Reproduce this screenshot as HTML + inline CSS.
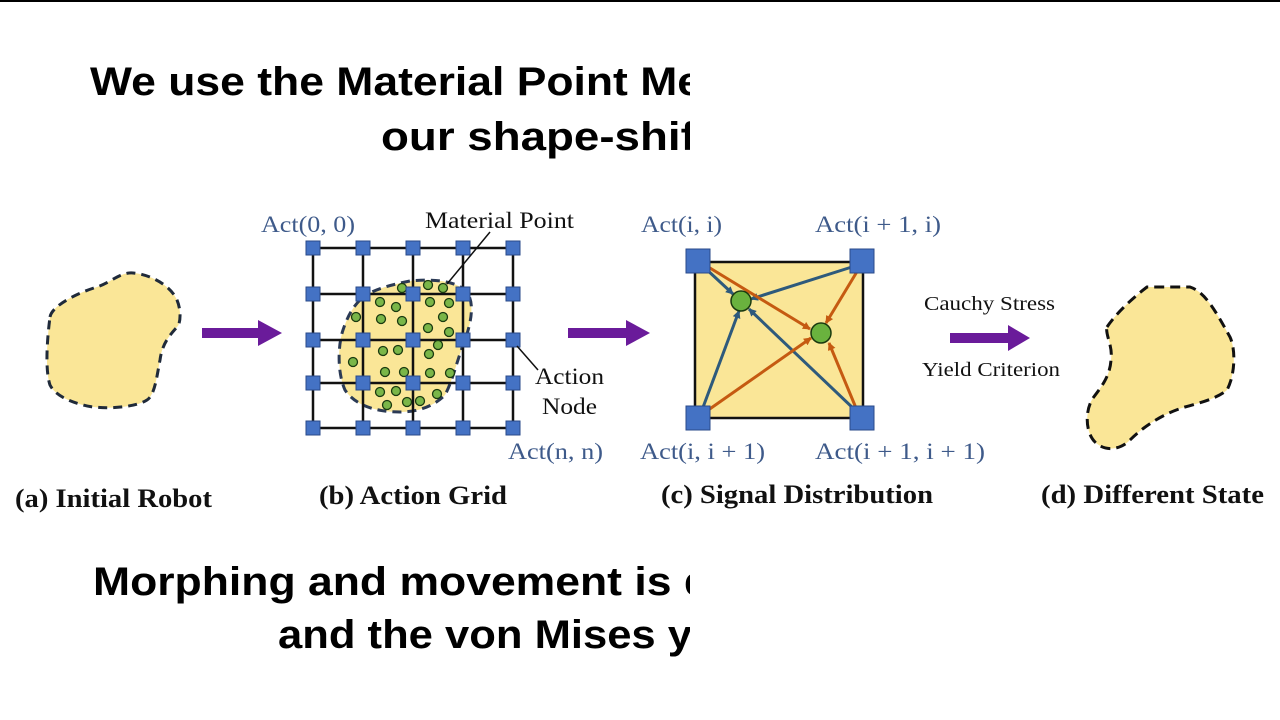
<!DOCTYPE html>
<html><head><meta charset="utf-8"><style>
html,body{margin:0;padding:0;background:#fff;width:1280px;height:720px;overflow:hidden}
</style></head><body>
<svg width="1280" height="720" viewBox="0 0 1280 720" xmlns="http://www.w3.org/2000/svg">
<defs>
<clipPath id="cl"><rect x="0" y="0" width="690" height="720"/></clipPath>
<marker id="mb" markerWidth="8" markerHeight="8" refX="7" refY="4" orient="auto" markerUnits="userSpaceOnUse"><path d="M0,0 L8,4 L0,8 z" fill="#2e5a7c"/></marker>
<marker id="mo" markerWidth="8" markerHeight="8" refX="7" refY="4" orient="auto" markerUnits="userSpaceOnUse"><path d="M0,0 L8,4 L0,8 z" fill="#c55a11"/></marker>
</defs>
<rect x="0" y="0" width="1280" height="2" fill="#000"/>
<g clip-path="url(#cl)" font-family="Liberation Sans, sans-serif" font-weight="bold" font-size="40" fill="#000">
<text x="90" y="95" textLength="612" lengthAdjust="spacingAndGlyphs">We use the Material Point Me</text>
<text x="381" y="150" textLength="330" lengthAdjust="spacingAndGlyphs">our shape-shift</text>
<text x="93" y="595" textLength="618" lengthAdjust="spacingAndGlyphs">Morphing and movement is d</text>
<text x="278" y="648" textLength="414" lengthAdjust="spacingAndGlyphs">and the von Mises y</text>
</g>

<path d="M50,317 C52,305 80,292 97,287 C112,282 120,272 133,273 C148,274 170,284 177,300 C182,312 180,325 177,327 C168,337 162,345 160,360 C157,375 155,395 147,400 C135,408 100,410 83,405 C68,401 55,395 50,385 C45,370 47,340 50,317 Z" fill="#fae697" stroke="#1f2a3a" stroke-width="3" stroke-dasharray="9,6"/>
<path d="M202,328 H258 V320 L282,333 L258,346 V338 H202 Z" fill="#6a1b9a"/>

<path d="M360,300 C370,290 390,285 410,281 C430,279 453,280 465,290 C475,300 472,320 465,340 C457,360 453,380 445,395 C435,405 420,412 400,412 C375,412 355,405 345,390 C337,372 338,345 343,330 C347,318 352,308 360,300 Z" fill="#fae697" stroke="#2b3a55" stroke-width="3" stroke-dasharray="9,6"/>
<g stroke="#111" stroke-width="2.5" fill="none">
<path d="M313,248V428M363,248V428M413,248V428M463,248V428M513,248V428M313,248H513M313,294H513M313,340H513M313,383H513M313,428H513"/>
</g>
<g fill="#7ab648" stroke="#1a3a10" stroke-width="1.3">
<circle cx="402" cy="288" r="4.5"/><circle cx="428" cy="285" r="4.5"/><circle cx="443" cy="288" r="4.5"/><circle cx="380" cy="302" r="4.5"/><circle cx="396" cy="307" r="4.5"/><circle cx="430" cy="302" r="4.5"/><circle cx="449" cy="303" r="4.5"/><circle cx="356" cy="317" r="4.5"/><circle cx="381" cy="319" r="4.5"/><circle cx="402" cy="321" r="4.5"/><circle cx="443" cy="317" r="4.5"/><circle cx="428" cy="328" r="4.5"/><circle cx="449" cy="332" r="4.5"/><circle cx="438" cy="345" r="4.5"/><circle cx="383" cy="351" r="4.5"/><circle cx="398" cy="350" r="4.5"/><circle cx="429" cy="354" r="4.5"/><circle cx="353" cy="362" r="4.5"/><circle cx="385" cy="372" r="4.5"/><circle cx="404" cy="372" r="4.5"/><circle cx="430" cy="373" r="4.5"/><circle cx="450" cy="373" r="4.5"/><circle cx="380" cy="392" r="4.5"/><circle cx="396" cy="391" r="4.5"/><circle cx="407" cy="402" r="4.5"/><circle cx="420" cy="401" r="4.5"/><circle cx="437" cy="394" r="4.5"/><circle cx="387" cy="405" r="4.5"/>
</g>
<g fill="#4472c4" stroke="#2a4a8a" stroke-width="1">
<rect x="306" y="241" width="14" height="14"/><rect x="356" y="241" width="14" height="14"/><rect x="406" y="241" width="14" height="14"/><rect x="456" y="241" width="14" height="14"/><rect x="506" y="241" width="14" height="14"/>
<rect x="306" y="287" width="14" height="14"/><rect x="356" y="287" width="14" height="14"/><rect x="406" y="287" width="14" height="14"/><rect x="456" y="287" width="14" height="14"/><rect x="506" y="287" width="14" height="14"/>
<rect x="306" y="333" width="14" height="14"/><rect x="356" y="333" width="14" height="14"/><rect x="406" y="333" width="14" height="14"/><rect x="456" y="333" width="14" height="14"/><rect x="506" y="333" width="14" height="14"/>
<rect x="306" y="376" width="14" height="14"/><rect x="356" y="376" width="14" height="14"/><rect x="406" y="376" width="14" height="14"/><rect x="456" y="376" width="14" height="14"/><rect x="506" y="376" width="14" height="14"/>
<rect x="306" y="421" width="14" height="14"/><rect x="356" y="421" width="14" height="14"/><rect x="406" y="421" width="14" height="14"/><rect x="456" y="421" width="14" height="14"/><rect x="506" y="421" width="14" height="14"/>
</g>
<path d="M490,232 L447,284 M517,346 L538,370" stroke="#111" stroke-width="1.5"/>
<g font-family="Liberation Serif, serif" font-size="23" lengthAdjust="spacingAndGlyphs">
<text x="261" y="232" fill="#3e5a8a" textLength="94" lengthAdjust="spacingAndGlyphs">Act(0, 0)</text>
<text x="425" y="228" fill="#111" textLength="149" lengthAdjust="spacingAndGlyphs">Material Point</text>
<text x="535" y="384" fill="#111" textLength="69" lengthAdjust="spacingAndGlyphs">Action</text>
<text x="542" y="414" fill="#111" textLength="55" lengthAdjust="spacingAndGlyphs">Node</text>
<text x="508" y="459" fill="#3e5a8a" textLength="95" lengthAdjust="spacingAndGlyphs">Act(n, n)</text>
</g>
<path d="M568,328 H626 V320 L650,333 L626,346 V338 H568 Z" fill="#6a1b9a"/>

<rect x="695" y="262" width="168" height="156" fill="#fae697" stroke="#111" stroke-width="2.5"/>
<g stroke="#2e5a7c" stroke-width="3" marker-end="url(#mb)">
<line x1="705" y1="268" x2="733" y2="294"/>
<line x1="855" y1="266" x2="751" y2="299"/>
<line x1="702" y1="410" x2="739" y2="311"/>
<line x1="855" y1="410" x2="749" y2="309"/>
</g>
<g stroke="#c55a11" stroke-width="3" marker-end="url(#mo)">
<line x1="705" y1="265" x2="810" y2="329"/>
<line x1="858" y1="270" x2="826" y2="323"/>
<line x1="704" y1="413" x2="811" y2="338"/>
<line x1="856" y1="408" x2="829" y2="343"/>
</g>
<circle cx="741" cy="301" r="10" fill="#6ab23e" stroke="#1a3a10" stroke-width="1.5"/>
<circle cx="821" cy="333" r="10" fill="#6ab23e" stroke="#1a3a10" stroke-width="1.5"/>
<g fill="#4472c4" stroke="#2a4a8a" stroke-width="1">
<rect x="686" y="249" width="24" height="24"/><rect x="850" y="249" width="24" height="24"/>
<rect x="686" y="406" width="24" height="24"/><rect x="850" y="406" width="24" height="24"/>
</g>
<g font-family="Liberation Serif, serif" font-size="23" fill="#3e5a8a">
<text x="641" y="232" textLength="81" lengthAdjust="spacingAndGlyphs">Act(i, i)</text>
<text x="815" y="232" textLength="126" lengthAdjust="spacingAndGlyphs">Act(i + 1, i)</text>
<text x="640" y="459" textLength="125" lengthAdjust="spacingAndGlyphs">Act(i, i + 1)</text>
<text x="815" y="459" textLength="170" lengthAdjust="spacingAndGlyphs">Act(i + 1, i + 1)</text>
</g>
<g font-family="Liberation Serif, serif" font-size="20" fill="#111">
<text x="924" y="310" textLength="131" lengthAdjust="spacingAndGlyphs">Cauchy Stress</text>
<text x="922" y="376" textLength="138" lengthAdjust="spacingAndGlyphs">Yield Criterion</text>
</g>
<path d="M950,333 H1008 V325 L1030,338 L1008,351 V343 H950 Z" fill="#6a1b9a"/>

<path d="M1107,327 C1115,315 1130,300 1147,287 L1190,287 C1205,292 1215,310 1230,337 C1236,350 1235,375 1227,390 C1218,398 1200,403 1185,407 C1165,413 1145,425 1130,440 C1120,450 1105,452 1095,442 C1085,432 1085,410 1093,398 C1103,385 1110,375 1111,360 C1113,345 1105,335 1107,327 Z" fill="#fae697" stroke="#111" stroke-width="3" stroke-dasharray="10,6"/>

<g font-family="Liberation Serif, serif" font-size="26" font-weight="bold" fill="#111">
<text x="15" y="507" textLength="197" lengthAdjust="spacingAndGlyphs">(a) Initial Robot</text>
<text x="319" y="504" textLength="188" lengthAdjust="spacingAndGlyphs">(b) Action Grid</text>
<text x="661" y="503" textLength="272" lengthAdjust="spacingAndGlyphs">(c) Signal Distribution</text>
<text x="1041" y="503" textLength="223" lengthAdjust="spacingAndGlyphs">(d) Different State</text>
</g>
</svg>
</body></html>
